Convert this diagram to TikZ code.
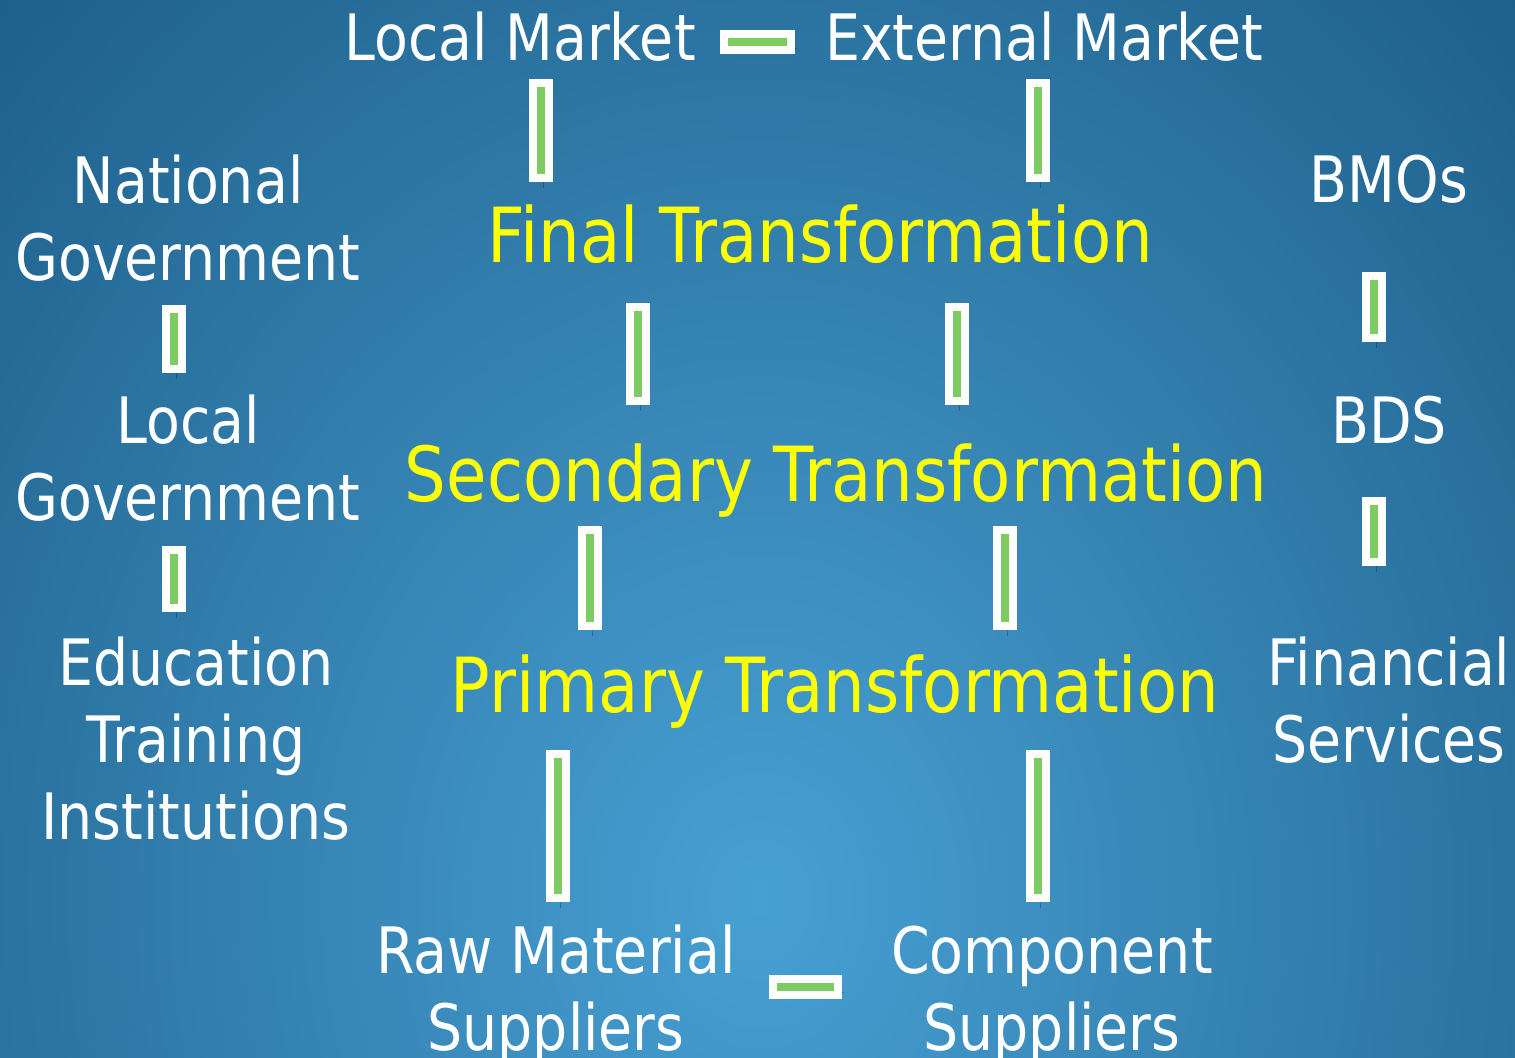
\documentclass[tikz,border=0pt]{standalone}
\usepackage{fontspec}
\setmainfont{DejaVu Sans}[FakeStretch=0.865]
\usepackage{tikz}
\usetikzlibrary{calc}

\definecolor{bgdark}{HTML}{17537D}
\definecolor{bglight}{HTML}{47A0D3}
\definecolor{bargreen}{HTML}{7FCB63}
\definecolor{stageyellow}{HTML}{FFFF00}

\tikzset{
  actor/.style={text=white, inner sep=0pt, anchor=base, align=center,
    font=\fontsize{32}{38.5}\selectfont},
  stage/.style={text=stageyellow, inner sep=0pt, anchor=base,
    font=\fontsize{38}{45}\selectfont},
  link/.style 2 args={draw=white, line width=12pt, shorten <=#1, shorten >=#2,
    preaction={draw=black, opacity=.25, transform canvas={shift={(1pt,-3pt)}}},
    postaction={draw=bargreen, line width=4pt, shorten <=#1+4pt, shorten >=#2+4pt}}
}

\begin{document}
\begin{tikzpicture}[x=0.5pt,y=-0.5pt]
\useasboundingbox (0,0) rectangle (1515,1058);
\begin{scope}
\clip (0,0) rectangle (1515,1058);
\shade[inner color=bglight, outer color=bgdark] (760,900) ellipse (640pt and 760pt);
\end{scope}
%markets
\node[actor] (lm) at (520,61) {Local Market};
\node[actor] (xm) at (1044,61) {External Market};
%government side (base = last line)
\node[actor] (ng) at (188,280.5) {National\\Government};
\node[actor] (lg) at (188,521) {Local\\Government};
\node[actor] (edu) at (196,839) {Education\\Training\\Institutions};
%support side
\node[actor] (bmo) at (1389,203) {BMOs};
\node[actor] (bds) at (1389,444) {BDS};
\node[actor] (fin) at (1389,762) {Financial\\Services};
%transformation chain
\node[stage] (ft) at (820,263) {Final Transformation};
\node[stage] (st) at (836,502) {Secondary Transformation};
\node[stage] (pt) at (835,712) {Primary Transformation};
%suppliers
\node[actor] (raw) at (556,1050) {Raw Material\\Suppliers};
\node[actor] (comp) at (1052,1050) {Component\\Suppliers};
%links
\draw[link={12pt}{15pt}] ([yshift=9.25pt]lm.base east) -- ([yshift=9.25pt]xm.base west);
\draw[link={8.5pt}{11.5pt}] (lm.south -| 541,0) -- (ft.north -| 541,0);
\draw[link={8.5pt}{11.5pt}] (xm.south -| 1038,0) -- (ft.north -| 1038,0);
\draw[link={19.5pt}{19.5pt}] (ft.south -| 638,0) -- (st.north -| 638,0);
\draw[link={19.5pt}{19.5pt}] (ft.south -| 957,0) -- (st.north -| 957,0);
\draw[link={4pt}{12pt}] (st.south -| 590,0) -- (pt.north -| 590,0);
\draw[link={4pt}{12pt}] (st.south -| 1005,0) -- (pt.north -| 1005,0);
\draw[link={11pt}{11.2pt}] (pt.south -| 558,0) -- (raw.north -| 558,0);
\draw[link={11pt}{11.7pt}] (pt.south -| 1038,0) -- (comp.north -| 1038,0);
\draw[link={16.5pt}{24.5pt}] ([yshift=31.75pt]raw.base east) -- ([yshift=31.75pt]comp.base west);
\draw[link={11.75pt}{11.2pt}] (ng.south -| 174,0) -- (lg.north -| 174,0);
\draw[link={11.75pt}{12.2pt}] (lg.south -| 174,0) -- (edu.north -| 174,0);
\draw[link={34pt}{27pt}] (bmo.south -| 1374,0) -- (bds.north -| 1374,0);
\draw[link={26pt}{35pt}] (bds.south -| 1374,0) -- (fin.north -| 1374,0);
\end{tikzpicture}
\end{document}
